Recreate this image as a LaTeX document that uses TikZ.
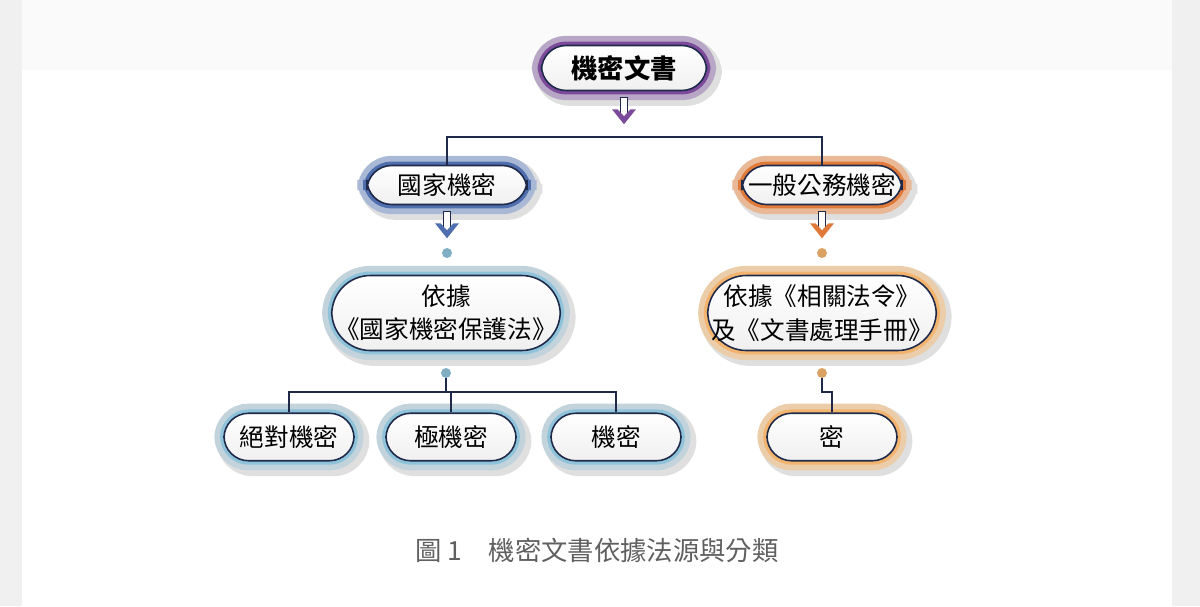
\documentclass[tikz,border=0pt]{standalone}
\usepackage{fontspec}
\setmainfont{Noto Sans CJK TC}
\usetikzlibrary{calc}
\definecolor{purpmain}{HTML}{7B4A9A}
\definecolor{purphalo}{HTML}{B8A6C6}
\definecolor{bluemain}{HTML}{4F6FAE}
\definecolor{bluehalo}{HTML}{A9B8D4}
\definecolor{skymain}{HTML}{8EC3DA}
\definecolor{skyhalo}{HTML}{C3D3DC}
\definecolor{orgmain}{HTML}{E07A3A}
\definecolor{orghalo}{HTML}{E9B896}
\definecolor{ltomain}{HTML}{F2B46E}
\definecolor{ltohalo}{HTML}{EBCDAA}
\definecolor{inkline}{HTML}{1F2A4A}
\newcommand\hollowdown[3]{%
  \draw[#3, fill=white, line width=0.5pt] ($(#1.south)+(-0.07,-0.12)$) rectangle ($(#1.south)+(0.07,-0.5)$);
  \fill[#2] ($(#1.south)+(-0.24,-0.36)$) -- ($(#1.south)+(0,-0.66)$) -- ($(#1.south)+(0.24,-0.36)$)
    -- ($(#1.south)+(0.13,-0.36)$) -- ($(#1.south)+(0,-0.5)$) -- ($(#1.south)+(-0.13,-0.36)$) -- cycle;
}
\begin{document}
\begin{tikzpicture}[
  pill/.style 2 args={rounded corners=14pt, align=center, font=\fontsize{14}{19}\selectfont,
    top color=white, bottom color=gray!12, draw=inkline, line width=0.9pt, inner sep=2pt,
    preaction={draw=gray!25, line width=13pt, transform canvas={shift={(0.08,-0.08)}}},
    preaction={draw=#2, line width=11pt},
    preaction={draw=#1, line width=4.5pt}},
  dot/.style={circle, inner sep=0pt, minimum size=0.2cm},
  link/.style={draw=inkline, line width=0.9pt}]
\useasboundingbox (0,0) rectangle (24,-12.12);
\fill[gray!12] (0,0) rectangle (24,-12.12);
\fill[white] (0.44,0) rectangle (23.44,-12.12);
\fill[gray!4] (0.44,0) rectangle (23.44,-1.4);

\node[pill={purpmain}{purphalo}, minimum width=3.3cm, minimum height=0.9cm, font=\bfseries\fontsize{15}{19}\selectfont] (doc) at (12.48,-1.36) {機密文書};
\node[pill={bluemain}{bluehalo}, minimum width=3.2cm, minimum height=0.78cm] (gj) at (8.94,-3.7) {國家機密};
\node[pill={orgmain}{orghalo}, minimum width=3.2cm, minimum height=0.78cm] (yb) at (16.44,-3.7) {一般公務機密};
\node[pill={skymain}{skyhalo}, minimum width=4.5cm, minimum height=1.5cm, rounded corners=22pt] (law) at (8.92,-6.26) {依據\\《國家機密保護法》};
\node[pill={ltomain}{ltohalo}, minimum width=4.5cm, minimum height=1.5cm, rounded corners=22pt] (rule) at (16.44,-6.26) {依據《相關法令》\\及《文書處理手冊》};
\node[pill={skymain}{skyhalo}, minimum width=2.6cm, minimum height=0.95cm] (jd) at (5.78,-8.74) {絕對機密};
\node[pill={skymain}{skyhalo}, minimum width=2.6cm, minimum height=0.95cm] (jj) at (9.02,-8.74) {極機密};
\node[pill={skymain}{skyhalo}, minimum width=2.6cm, minimum height=0.95cm] (jm) at (12.32,-8.74) {機密};
\node[pill={ltomain}{ltohalo}, minimum width=2.6cm, minimum height=0.95cm] (mi) at (16.64,-8.74) {密};

\hollowdown{doc}{purpmain}{inkline}
\hollowdown{gj}{bluemain}{inkline}
\hollowdown{yb}{orgmain}{inkline}

\node[dot, fill=skymain!90!black] (d1) at (8.94,-5.06) {};
\node[dot, fill=ltomain!90!black] (d2) at (16.44,-5.06) {};
\node[dot, fill=skymain!90!black] (d3) at (8.92,-7.46) {};
\node[dot, fill=ltomain!90!black] (d4) at (16.44,-7.46) {};

\coordinate (h1) at (8.92,-7.84);
\draw[link] (gj.north) -- ++(0,0.56) -| (yb.north);
\draw[link] (d3) -- (h1) -| (jd.north);
\draw[link] (h1) -| (jm.north);
\draw[link] (h1) -| (jj.north);
\draw[link] (d4) -- (16.44,-7.84) -| (mi.north);

\node[text=gray!75!black, font=\fontsize{15}{18}\selectfont] (cap) at (11.94,-11) {圖 1\quad 機密文書依據法源與分類};
\end{tikzpicture}
\end{document}
